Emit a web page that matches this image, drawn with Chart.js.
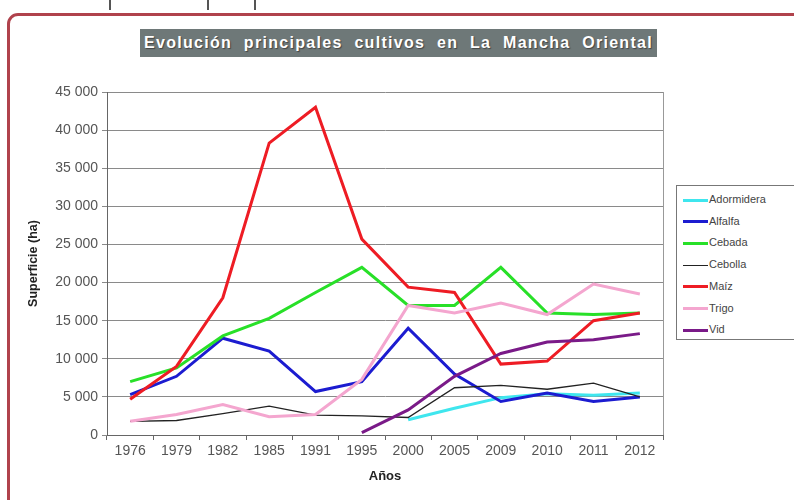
<!DOCTYPE html>
<html><head><meta charset="utf-8">
<script src="https://cdn.jsdelivr.net/npm/chart.js@4"></script>
<style>
html,body{margin:0;padding:0;background:#fff;width:794px;height:500px;overflow:hidden;font-family:Arial,"Liberation Sans",sans-serif;}
#frame{position:absolute;left:7px;top:13px;width:820px;height:520px;border:3px solid #b0424c;border-radius:11px;box-sizing:border-box;}
.mark{position:absolute;top:0;width:2px;height:10px;background:#555;}
#title{position:absolute;left:140px;top:29px;width:517px;height:28px;background:#6e7878;color:#fff;font-weight:bold;font-size:16px;line-height:28px;text-align:center;letter-spacing:1.3px;word-spacing:6px;text-shadow:1px 1px 1px #444;white-space:nowrap;}
#wrap{position:absolute;left:0;top:0;width:794px;height:500px;}
#legend{position:absolute;left:676px;top:185px;width:120px;height:155px;border:1px solid #777;box-sizing:border-box;background:#fff;}
.li{position:absolute;left:6px;height:14px;font-size:11px;color:#444;line-height:14px;white-space:nowrap;}
.li span{display:inline-block;width:25px;vertical-align:middle;margin-right:1px;}
</style></head><body>
<div class="mark" style="left:109px"></div>
<div class="mark" style="left:207px"></div>
<div class="mark" style="left:254px"></div>
<div id="frame"></div>
<div id="wrap"><canvas id="c" width="794" height="500"></canvas></div>
<div id="title">Evolución principales cultivos en La Mancha Oriental</div>
<div id="legend"></div>
<script>
const years = ["1976","1979","1982","1985","1991","1995","2000","2005","2009","2010","2011","2012"];
const seriesNames = ["Adormidera","Alfalfa","Cebada","Cebolla","Maíz","Trigo","Vid"];
const adormidera = [null,null,null,null,null,null,2000,3500,4900,5400,5200,5500];
const alfalfa    = [5300,7700,12700,11000,5700,7000,14000,8000,4400,5500,4400,5000];
const cebada     = [7000,8800,13000,15300,18700,22000,17000,17000,22000,16000,15800,16000];
const cebolla    = [1800,1900,2800,3800,2600,2500,2300,6200,6500,6000,6800,5000];
const maiz       = [4700,9000,18000,38300,43000,25700,19400,18700,9300,9700,15000,16000];
const trigo      = [1800,2700,4000,2400,2700,7300,17000,16000,17300,15800,19800,18500];
const vid        = [null,null,null,null,null,300,3300,7700,10700,12200,12500,13300];
const yTicks = [0,5000,10000,15000,20000,25000,30000,35000,40000,45000];

const seriesValues = [adormidera,alfalfa,cebada,cebolla,maiz,trigo,vid];
const colors = ["#3fe6ee","#1c1cd0","#28e028","#222222","#ee1c24","#f4a6cf","#7a1a88"];
const widths = [3,3,3,1.3,3,3,3];

const fmt = v => String(v).replace(/\B(?=(\d{3})+(?!\d))/g, " ");

const datasets = seriesNames.map((n,i)=>({
  label:n, data:seriesValues[i], borderColor:colors[i], backgroundColor:colors[i],
  borderWidth:widths[i], pointRadius:0, tension:0, fill:false, spanGaps:false,
  order: seriesNames.length - i
}));

const rightBorder = {
  id:'rightBorder',
  afterDraw(chart){
    const a = chart.chartArea, ctx = chart.ctx;
    ctx.save(); ctx.strokeStyle='#999'; ctx.lineWidth=1;
    ctx.beginPath(); ctx.moveTo(Math.round(a.right)+0.5,a.top); ctx.lineTo(Math.round(a.right)+0.5,a.bottom); ctx.stroke();
    ctx.restore();
  }
};

new Chart(document.getElementById('c'),{
  type:'line',
  data:{labels:years, datasets},
  plugins:[rightBorder],
  options:{
    responsive:false, animation:false,
    layout:{padding:{top:92,right:131,left:26,bottom:16}},
    plugins:{legend:{display:false},tooltip:{enabled:false}},
    scales:{
      x:{
        offset:true,
        grid:{drawOnChartArea:false,drawTicks:true,tickLength:5,offset:true,color:'#666'},
        border:{color:'#666',width:1},
        ticks:{color:'#555',font:{family:'Arial',size:14},padding:3,maxRotation:0,autoSkip:false},
        title:{display:true,text:'Años',color:'#222',font:{family:'Arial',size:13,weight:'bold'},padding:{top:6,bottom:0}},
        afterFit(s){ s.height = 49; }
      },
      y:{
        min:0,max:45000,
        afterBuildTicks(s){ s.ticks = yTicks.map(v=>({value:v})); },
        grid:{color:'#8a8a8a',lineWidth:1,drawTicks:true,tickLength:5},
        border:{color:'#666',width:1},
        ticks:{color:'#555',font:{family:'Arial',size:14},padding:4,callback:v=>fmt(v)},
        title:{display:true,text:'Superficie (ha)',color:'#222',font:{family:'Arial',size:12.5,weight:'bold'},padding:{top:0,bottom:8}},
        afterFit(s){ s.width = 81; }
      }
    }
  }
});

const lg = document.getElementById('legend');
seriesNames.forEach((n,i)=>{
  const d = document.createElement('div');
  d.className='li'; d.style.top = (6 + i*21.7) + 'px';
  d.innerHTML = '<span style="border-top:'+(widths[i]<2?1.5:3)+'px solid '+colors[i]+'"></span>'+n;
  lg.appendChild(d);
});
</script>
</body></html>
